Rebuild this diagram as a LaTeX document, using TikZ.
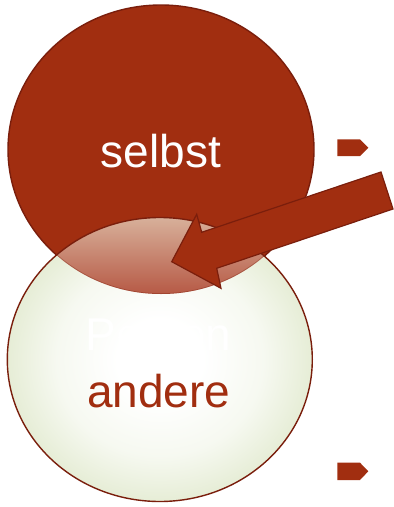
\documentclass[tikz,border=0pt]{standalone}
\usepackage{fontspec}
\setmainfont{Liberation Sans}
\definecolor{brick}{RGB}{161,46,16}
\definecolor{brickdark}{RGB}{122,30,12}
\definecolor{paleedge}{RGB}{230,237,214}
\definecolor{ovtop}{RGB}{216,178,156}
\definecolor{ovbot}{RGB}{182,88,68}
\pgfdeclareradialshading{bubble}{\pgfpoint{0bp}{0bp}}{%
  color(0bp)=(white); color(7bp)=(white); color(17bp)=(white!65!paleedge);
  color(25bp)=(paleedge); color(50bp)=(paleedge)}
\tikzset{
  bigtext/.style={font=\fontsize{46}{50}\selectfont, inner sep=0pt, anchor=base},
  bulletmark/.style={fill=brick, draw=none},
  rim/.style={draw=brickdark, line width=1.4pt},
}
\begin{document}
\begin{tikzpicture}[x=1pt,y=-1pt]
\useasboundingbox (0,0) rectangle (394,507);
\coordinate (topc) at (161,149.5);
\coordinate (botc) at (159.8,359.5);
% top circle
\fill[brick] (topc) ellipse [x radius=153, y radius=144.5];
\draw[rim] (topc) ellipse [x radius=153, y radius=144.5];
% bottom circle
\shade[shading=bubble] (botc) ellipse [x radius=152.5, y radius=142];
% overlap
\begin{scope}
  \clip (topc) ellipse [x radius=153, y radius=144.5];
  \clip (botc) ellipse [x radius=152.5, y radius=142];
  \shade[top color=ovtop, bottom color=ovbot] (0,216) rectangle (320,295);
  \draw[brickdark, opacity=0.35, line width=1.5pt] (topc) ellipse [x radius=153, y radius=144.5];
\end{scope}
\draw[rim] (botc) ellipse [x radius=152.5, y radius=142];
% texts
\node[bigtext, text=white] (selbst) at (160.8,167.5) {selbst};
\node[bigtext, text=white] (person) at (158.7,350) {Person};
\node[bigtext, text=brick] (andere) at (158.7,407) {andere};
% big arrow
\coordinate (a1) at (381,172);
\coordinate (a2) at (393,209);
\coordinate (j1) at (201.7,232.3);
\coordinate (b1) at (196.7,214.3);
\coordinate (tip) at (171.7,261.7);
\coordinate (b2) at (221,288.3);
\coordinate (j2) at (216.7,268.3);
\draw[fill=brick, draw=brickdark, line width=1.2pt, line join=miter] (a1) -- (j1) -- (b1) -- (tip) -- (b2) -- (j2) -- (a2) -- cycle;
% bullets
\fill[bulletmark] (337.3,139.3) -- (360,139.3) -- (368.3,147.7) -- (360,156) -- (337.3,156) -- cycle;
\fill[bulletmark] (337.3,462.7) -- (360,462.7) -- (368.3,471.3) -- (360,480) -- (337.3,480) -- cycle;
\end{tikzpicture}
\end{document}
